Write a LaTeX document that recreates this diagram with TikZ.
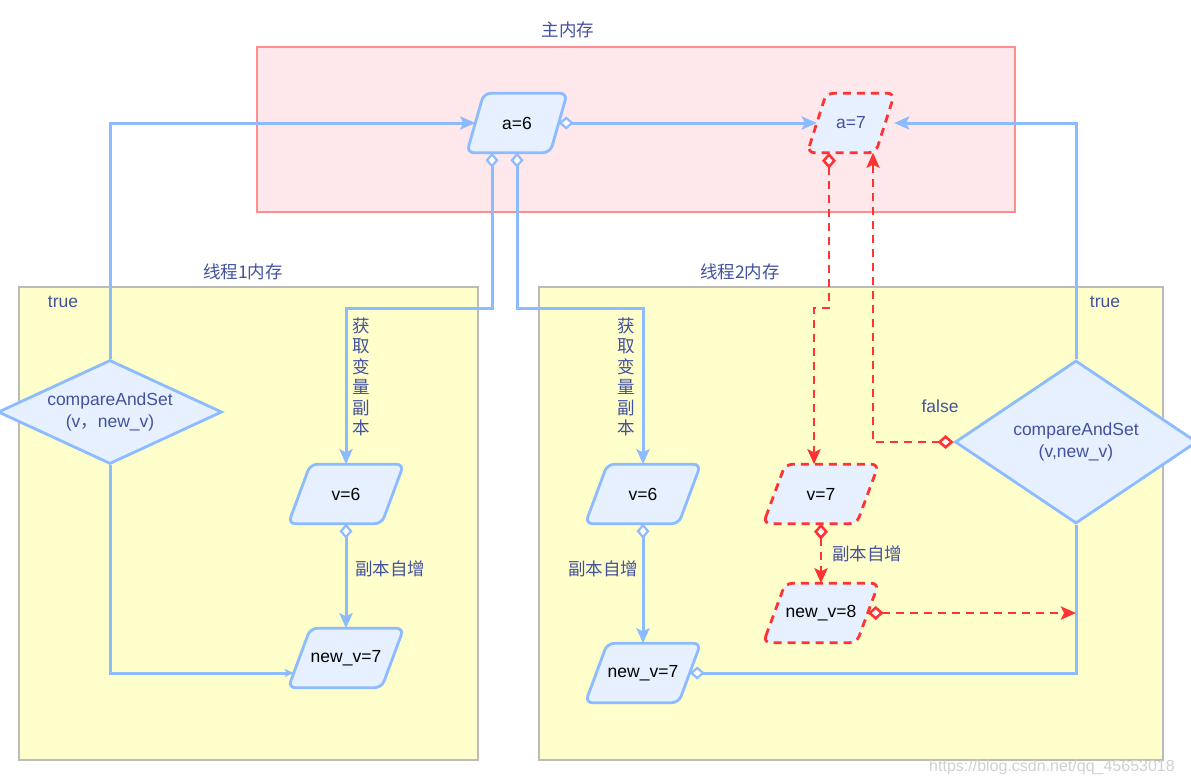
\documentclass[tikz,border=0pt]{standalone}
\usepackage{fontspec}
\setmainfont{Liberation Sans}
\newfontfamily\cjk{Noto Sans CJK SC}
\usetikzlibrary{arrows.meta,shapes.geometric,calc}
\definecolor{bl}{HTML}{8CBBFF}
\definecolor{blfill}{HTML}{E6F0FF}
\definecolor{txt}{HTML}{43529E}
\definecolor{rd}{HTML}{FF3333}
\definecolor{pinkfill}{HTML}{FFE8EC}
\definecolor{pinkline}{HTML}{FF8F8F}
\definecolor{yel}{HTML}{FFFFCC}
\definecolor{gr}{HTML}{BBBBBB}
\pgfdeclarelayer{boxes}
\pgfdeclarelayer{shapes}
\pgfsetlayers{boxes,shapes,main}
\tikzset{
  pbox/.style={rectangle, inner sep=0pt, minimum height=59pt, font=\fontsize{17.5}{20}\selectfont},
  cas/.style={diamond, draw=bl, fill=blfill, line width=2.8pt, inner sep=0pt, align=center, text=txt, font=\fontsize{17.5}{22}\selectfont},
  bshape/.style={draw=bl, fill=blfill, line width=2.8pt, rounded corners=7pt},
  rshape/.style={draw=rd, fill=blfill, line width=2.8pt, rounded corners=7pt, dash pattern=on 8pt off 6pt},
  bline/.style={draw=bl, line width=3pt},
  rline/.style={draw=rd, line width=2.8pt, dash pattern=on 8pt off 6pt},
  tip/.style={-{Stealth[length=15pt,width=13pt,inset=3pt]}},
  smalltip/.style={-{Stealth[length=9pt,width=8pt,inset=2pt]}},
  btail/.style={{Diamond[fill=white,length=15pt,width=13pt,line width=2.2pt]}-{Stealth[length=15pt,width=13pt,inset=3pt]}},
  btailonly/.style={{Diamond[fill=white,length=15pt,width=13pt,line width=2.2pt]}-},
  rtail/.style={{Diamond[fill=white,length=16pt,width=14pt,line width=2.6pt]}-{Stealth[length=15pt,width=13pt,inset=3pt]}},
  lbl/.style={text=txt, font=\fontsize{17.5}{20}\selectfont},
  cjklbl/.style={text=txt, font=\cjk\fontsize{17.5}{20.5}\selectfont, align=center, inner sep=0pt},
}
\newcommand\parashape[3]{%
  \begin{pgfonlayer}{shapes}
  \draw[#3] ([xshift=-#2pt/2]#1.south west) -- ([xshift=#2pt/2]#1.north west) -- ([xshift=#2pt/2]#1.north east) -- ([xshift=-#2pt/2]#1.south east) -- cycle;
  \end{pgfonlayer}}
\begin{document}
\begin{tikzpicture}[x=1pt,y=-1pt]
\useasboundingbox (0,0) rectangle (1191,784);
\clip (0,0) rectangle (1191,784);
% background boxes
\begin{pgfonlayer}{boxes}
  \fill[white] (0,0) rectangle (1191,784);
  \draw[draw=pinkline, fill=pinkfill, line width=2.8pt] (257,47) rectangle (1015,212);
  \draw[draw=gr, fill=yel, line width=1.4pt] (19,287) rectangle (478,760);
  \draw[draw=gr, fill=yel, line width=1.4pt] (539,287) rectangle (1163,760);
\end{pgfonlayer}
\node[cjklbl] (tmain) at (568,30) {主内存};
\node[cjklbl] (tt1) at (243,272) {线程1内存};
\node[cjklbl] (tt2) at (740,272) {线程2内存};

% parallelogram nodes
\node[pbox, minimum width=83pt] (a6) at (517,123) {a=6};
\node[pbox, minimum width=68pt, text=txt] (a7) at (851,123) {a=7};
\node[pbox, minimum width=93pt] (v6a) at (346,494) {v=6};
\node[pbox, minimum width=93pt] (nv7a) at (346,658) {new\_v=7};
\node[pbox, minimum width=93pt] (v6b) at (643,494) {v=6};
\node[pbox, minimum width=93pt] (nv7b) at (643,673) {new\_v=7};
\node[pbox, minimum width=93pt] (v7) at (821,494) {v=7};
\node[pbox, minimum width=93pt] (nv8) at (821,613) {new\_v=8};
\parashape{a6}{17}{bshape}
\parashape{a7}{19}{rshape}
\parashape{v6a}{22}{bshape}
\parashape{nv7a}{22}{bshape}
\parashape{v6b}{22}{bshape}
\parashape{nv7b}{22}{bshape}
\parashape{v7}{22}{rshape}
\parashape{nv8}{22}{rshape}

% decision nodes
\node[cas, shape aspect=2.2, minimum width=224pt, minimum height=104pt] (cas1) at (110,412) {compareAndSet\\(v{\cjk，}new\_v)};
\node[cas, shape aspect=1.5, minimum width=242pt, minimum height=163pt] (cas2) at (1076,442) {compareAndSet\\(v,new\_v)};

% labels
\node[lbl] (true1) at (63,302) {true};
\node[lbl] (true2) at (1105,302) {true};
\node[lbl] (false) at (940,406) {false};
\node[cjklbl] (get1) at (361,377) {获\\取\\变\\量\\副\\本};
\node[cjklbl] (get2) at (626,377) {获\\取\\变\\量\\副\\本};
\node[cjklbl] (inc1) at (390,569) {副本自增};
\node[cjklbl] (inc2) at (603,569) {副本自增};
\node[cjklbl] (inc3) at (867,554) {副本自增};
\node[text=black!18, font=\fontsize{16}{18}\selectfont] (wm) at (1052,767) {https://blog.csdn.net/qq\_45653018};

% helper coordinates
\coordinate (a6t) at ([xshift=-25pt]a6.south);
\coordinate (a7t) at ([xshift=-22pt]a7.south);
\coordinate (a7h) at ([xshift=22pt]a7.south);
\coordinate (v7in) at ([xshift=-7pt]v7.north);
\coordinate (nv7ain) at ([xshift=-5.6pt,yshift=-15pt]nv7a.west);

% blue connectors
\draw[bline, tip] (cas1.north) |- (a6.west);
\draw[bline, btail] (a6t) |- (v6a.north |- 0,308) -- (v6a.north);
\draw[bline, btail] (a6.south) |- (v6b.north |- 0,308) -- (v6b.north);
\draw[bline, btail] (a6.east) -- (a7.west);
\draw[bline, tip, shorten >=9pt] (cas2.north) |- (a7.east);
\draw[bline, btail] (v6a.south) -- (nv7a.north);
\draw[bline, smalltip] (cas1.south) |- (nv7ain);
\draw[bline, btail] (v6b.south) -- (nv7b.north);
\draw[bline, btailonly] (nv7b.east) -| (cas2.south);

% red connectors
\draw[rline, rtail] (a7t) |- (v7in |- 0,308) -- (v7in);
\draw[rline, rtail] (v7.south) -- (nv8.north);
\draw[rline, rtail] (nv8.east) -- (cas2.south |- nv8.east);
\draw[rline, rtail] (cas2.west) -| (a7h);
\end{tikzpicture}
\end{document}
